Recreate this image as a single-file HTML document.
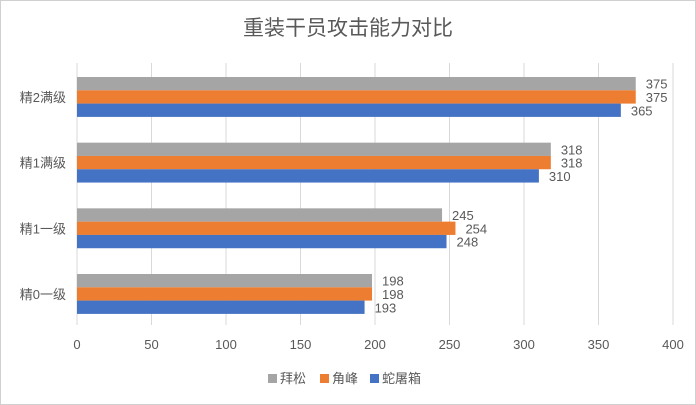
<!DOCTYPE html>
<html><head><meta charset="utf-8"><style>
body{margin:0;background:#fff}
svg{display:block;font-family:"Liberation Sans","Noto Sans CJK SC",sans-serif}
</style></head><body>
<svg id="c" width="696" height="405">
<rect x="0.5" y="0.5" width="695" height="404" fill="#fff" stroke="#d0d0d0"/>
<text x="348" y="35" text-anchor="middle" font-size="21" fill="#595959">重装干员攻击能力对比</text>
<g id="grid"></g><g id="bars"></g><g id="labels"></g>
<g>
<rect x="268" y="374" width="9" height="9" fill="#a5a5a5"/>
<text x="280" y="383" font-size="13" fill="#595959">拜松</text>
<rect x="320" y="374" width="9" height="9" fill="#ed7d31"/>
<text x="332" y="383" font-size="13" fill="#595959">角峰</text>
<rect x="370" y="374" width="9" height="9" fill="#4472c4"/>
<text x="382" y="383" font-size="13" fill="#595959">蛇屠箱</text>
</g>
</svg>
<script>
const categories=["精2满级","精1满级","精1一级","精0一级"];
const baisong=[375,318,245,198];
const jiaofeng=[375,318,254,198];
const shetuxiang=[365,310,248,193];
const ticks=[0,50,100,150,200,250,300,350,400];
const NS="http://www.w3.org/2000/svg";
const x0=77,x1=673,xmax=400;
const xs=v=>x0+(x1-x0)*v/xmax;
const groupTop=[77,143,208,274], bh=13.3;
function mk(t,a,p){const e=document.createElementNS(NS,t);for(const k in a)e.setAttribute(k,a[k]);p.appendChild(e);return e;}
const grid=document.getElementById('grid'),bars=document.getElementById('bars'),labels=document.getElementById('labels');
ticks.forEach(t=>{
 const l=mk('line',{x1:xs(t),x2:xs(t),y1:63,y2:325,stroke:'#d9d9d9','stroke-width':1},grid);
 
 
 const tx=mk('text',{x:xs(t),y:349,'text-anchor':'middle','font-size':13,fill:'#595959'},grid);
 tx.textContent=t;
 
 
});
const series=[[baisong,'#a5a5a5','baisong'],[jiaofeng,'#ed7d31','jiaofeng'],[shetuxiang,'#4472c4','shetuxiang']];
categories.forEach((c,i)=>{
 const gt=groupTop[0]+i*(groupTop[3]-groupTop[0])/3;
 const ct=mk('text',{x:66,y:gt+bh*1.5+5,'text-anchor':'end','font-size':13,fill:'#595959'},labels);
 ct.textContent=c;
 
 
 series.forEach((s,j)=>{
  const v=s[0][i],y=gt+j*bh;
  const r=mk('rect',{x:x0,y:y,width:xs(v)-x0,height:bh,fill:s[1]},bars);
  
  
  const t=mk('text',{x:xs(v)+10,y:y+bh/2+5,'font-size':13,fill:'#595959'},labels);
  t.textContent=v;
  
  
 });
});
</script>
</body></html>
